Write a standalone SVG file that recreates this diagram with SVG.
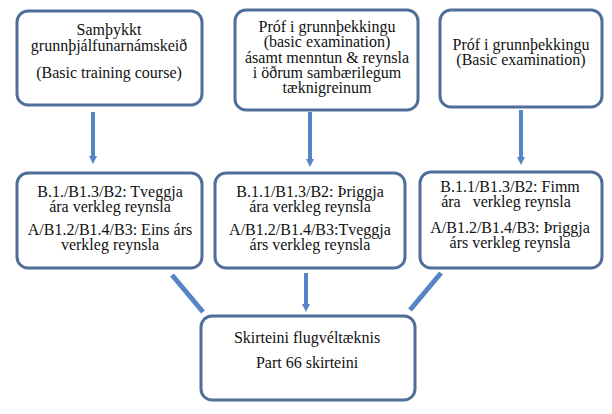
<svg xmlns="http://www.w3.org/2000/svg" width="612" height="414" viewBox="0 0 612 414">
<defs>
<style>
.box{fill:#fff;stroke:#4f6f99;stroke-width:3}
.t{font-family:"Liberation Serif","Times New Roman",serif;font-size:16px;fill:#111;text-anchor:middle}
.c{stroke:#5585c4;stroke-width:4;fill:none}
.d{stroke:#5585c4;stroke-width:5;fill:none}
</style>
<marker id="ah" viewBox="0 0 6 6" refX="3" refY="3" markerWidth="2" markerHeight="2" orient="auto">
<path d="M0,0L6,3L0,6z" fill="#5585c4"/>
</marker>
</defs>
<rect width="612" height="414" fill="#fff"/>
<g id="connectors">
<line class="c" x1="93" y1="112" x2="93" y2="160" marker-end="url(#ah)"/>
<line class="c" x1="310" y1="112" x2="310" y2="163" marker-end="url(#ah)"/>
<line class="c" x1="521" y1="110" x2="521" y2="161" marker-end="url(#ah)"/>
<line class="d" x1="172" y1="275" x2="203" y2="312"/>
<line class="c" x1="306" y1="273" x2="306" y2="308" marker-end="url(#ah)"/>
<line class="d" x1="441" y1="273" x2="410" y2="310"/>
</g>
<g id="n1">
<rect class="box" x="17" y="11" width="185" height="94" rx="11"/>
<text class="t" x="109" y="35">Samþykkt</text>
<text class="t" x="109" y="51">grunnþjálfunarnámskeið</text>
<text class="t" x="109" y="78">(Basic training course)</text>
</g>
<g id="n2">
<rect class="box" x="235" y="10" width="183" height="100" rx="11"/>
<text class="t" x="327" y="32">Próf i grunnþekkingu</text>
<text class="t" x="327" y="47">(basic examination)</text>
<text class="t" x="327" y="63">ásamt menntun &amp; reynsla</text>
<text class="t" x="327" y="78">i öðrum sambærilegum</text>
<text class="t" x="327" y="93">tæknigreinum</text>
</g>
<g id="n3">
<rect class="box" x="440" y="10" width="162" height="97" rx="11"/>
<text class="t" x="521" y="50">Próf i grunnþekkingu</text>
<text class="t" x="521" y="65">(Basic examination)</text>
</g>
<g id="n4">
<rect class="box" x="17" y="173" width="185" height="95" rx="11"/>
<text class="t" x="110" y="197">B.1./B1.3/B2: Tveggja</text>
<text class="t" x="110" y="212">ára verkleg reynsla</text>
<text class="t" x="110" y="235">A/B1.2/B1.4/B3: Eins árs</text>
<text class="t" x="110" y="250">verkleg reynsla</text>
</g>
<g id="n5">
<rect class="box" x="215" y="173" width="190" height="95" rx="11"/>
<text class="t" x="310" y="197">B.1.1/B1.3/B2: Þriggja</text>
<text class="t" x="310" y="212">ára verkleg reynsla</text>
<text class="t" x="310" y="235">A/B1.2/B1.4/B3:Tveggja</text>
<text class="t" x="310" y="250">árs verkleg reynsla</text>
</g>
<g id="n6">
<rect class="box" x="420" y="172" width="182" height="96" rx="11"/>
<text class="t" x="510" y="192">B.1.1/B1.3/B2: Fimm</text>
<text class="t" x="506" y="207" xml:space="preserve">ára   verkleg reynsla</text>
<text class="t" x="510" y="233">A/B1.2/B1.4/B3: Þriggja</text>
<text class="t" x="510" y="248">árs verkleg reynsla</text>
</g>
<g id="n7">
<rect class="box" x="201" y="316" width="214" height="84" rx="11"/>
<text class="t" x="307" y="343">Skirteini flugvéltæknis</text>
<text class="t" x="307" y="368">Part 66 skirteini</text>
</g>
</svg>
